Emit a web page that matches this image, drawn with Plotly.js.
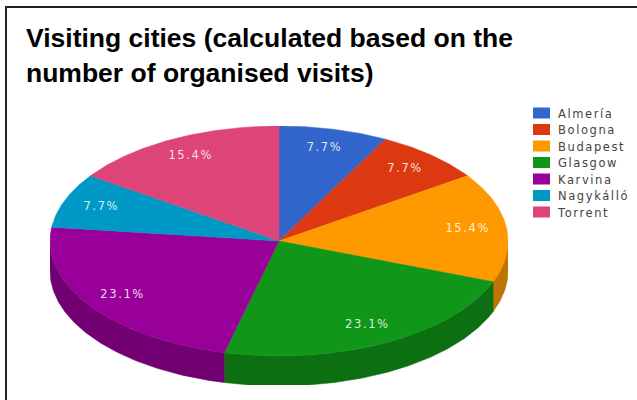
<!DOCTYPE html>
<html>
<head>
<meta charset="utf-8">
<script src="https://cdn.plot.ly/plotly-3.0.1.min.js"></script>
<style>
html,body{margin:0;padding:0;background:#fff}
#chart{width:637px;height:400px}
.legendtext{letter-spacing:1.6px}
.slice-labels text{letter-spacing:1.6px}
</style>
</head>
<body>
<div id="chart"></div>
<script>
const titleText = 'Visiting cities (calculated based on the<br>number of organised visits)';
const cities = ['Almería','Bologna','Budapest','Glasgow','Karvina','Nagykálló','Torrent'];
const visits = [1,1,2,3,3,1,2];
const topColors = ['#3366cc','#dc3912','#ff9900','#109618','#990099','#0099c6','#dd4477'];
const sideColors = ['#264c99','#a52b0e','#bf7300','#0c7012','#730073','#007395','#a63359'];
const wallDepth = 0.26;
const labelRadius = 0.83;

const total = visits.reduce((a,b)=>a+b,0);
const arc = (a0,a1,dy=0) => {
  const n = Math.max(2,Math.ceil((a1-a0)/0.01));
  const pts = [];
  for(let i=0;i<=n;i++){const a=a0+(a1-a0)*i/n;pts.push([Math.sin(a),Math.cos(a)-dy]);}
  return pts;
};
let acc = 0;
const tops = [], walls = [], lx = [], ly = [], lt = [];
visits.forEach((v,i)=>{
  const a0 = acc/total*2*Math.PI; acc += v;
  const a1 = acc/total*2*Math.PI;
  const pts = [[0,0],...arc(a0,a1),[0,0]];
  tops.push({type:'scatter',mode:'lines',name:cities[i],x:pts.map(p=>p[0]),y:pts.map(p=>p[1]),
    fill:'toself',fillcolor:topColors[i],line:{color:topColors[i],width:0.5},hoverinfo:'name'});
  const w0 = Math.max(a0,Math.PI/2), w1 = Math.min(a1,1.5*Math.PI);
  if(w1>w0){
    const wp = [...arc(w0,w1),...arc(w0,w1,wallDepth).reverse()];
    wp.push(wp[0]);
    walls.push({type:'scatter',mode:'lines',showlegend:false,hoverinfo:'skip',x:wp.map(p=>p[0]),y:wp.map(p=>p[1]),
      fill:'toself',fillcolor:sideColors[i],line:{color:sideColors[i],width:0.5}});
  }
  const m = (a0+a1)/2;
  lx.push(labelRadius*Math.sin(m)); ly.push(labelRadius*Math.cos(m));
  lt.push((v/total*100).toFixed(1)+'%');
});
const labels = {type:'scatter',mode:'text',x:lx,y:ly,text:lt,showlegend:false,hoverinfo:'skip',cliponaxis:false,
  textposition:'middle center',textfont:{family:'DejaVu Sans, sans-serif',size:11.5,color:'rgba(255,255,255,0.85)'}};

const layout = {
  width:637,height:400,margin:{l:0,r:0,t:0,b:0},paper_bgcolor:'#fff',plot_bgcolor:'rgba(0,0,0,0)',
  title:{text:titleText,x:26/637,xanchor:'left',y:1-47/400,yanchor:'top',
    font:{family:'Liberation Sans, Arial, sans-serif',size:26.5,color:'#000',weight:700}},
  xaxis:{domain:[50/637,508/637],range:[-1,1],visible:false,fixedrange:true},
  yaxis:{domain:[15/400,274/400],range:[-1.252,1],visible:false,fixedrange:true},
  showlegend:true,
  legend:{x:518/637,y:1-103/400,xanchor:'left',yanchor:'top',bgcolor:'rgba(0,0,0,0)',
    tracegroupgap:0,itemwidth:30,font:{family:'DejaVu Sans, sans-serif',size:11.5,color:'#444'}},
  shapes:[
    {type:'line',xref:'paper',yref:'paper',x0:6/637,x1:1,y0:1-7/400,y1:1-7/400,line:{color:'#222',width:2},layer:'above'},
    {type:'line',xref:'paper',yref:'paper',x0:6/637,x1:6/637,y0:0,y1:1-6/400,line:{color:'#222',width:2},layer:'above'}
  ]
};
Plotly.newPlot('chart',[...walls,...tops,labels],layout,{displayModeBar:false}).then(gd=>{
  gd.querySelectorAll('.legend .legendlines path').forEach(p=>p.remove());
  gd.querySelectorAll('.legend .legendfill path').forEach(p=>p.setAttribute('d','M15,-5.5h17v11h-17z'));
  gd.querySelectorAll('.legend .traces').forEach((t,i)=>t.setAttribute('transform','translate(0,'+(10+i*16.5)+')'));
  gd.querySelectorAll('.gtitle tspan.line').forEach((t,i)=>{ if(i>0) t.setAttribute('dy','34.5px'); });
  gd.querySelectorAll('.scatterlayer .textpoint').forEach(t=>t.parentNode.parentNode.classList.add('slice-labels'));
});
</script>
</body>
</html>
